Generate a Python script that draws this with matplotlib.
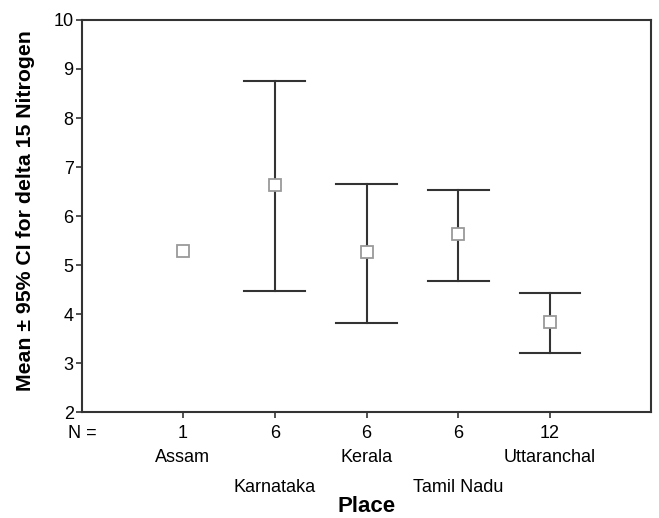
import matplotlib.pyplot as plt
import numpy as np

plt.rcParams['font.family'] = ['Liberation Sans', 'DejaVu Sans']

# Data
places = ['Assam', 'Karnataka', 'Kerala', 'Tamil Nadu', 'Uttaranchal']
n_values = ['1', '6', '6', '6', '12']
means = [5.29, 6.63, 5.26, 5.63, 3.83]
ci_low = [np.nan, 4.46, 3.82, 4.67, 3.21]
ci_high = [np.nan, 8.76, 6.66, 6.54, 4.43]

line_col = '#333333'
marker_col = '#9a9a9a'

fig = plt.figure(figsize=(6.59, 5.18), dpi=100)
ax = fig.add_axes([0.1244, 0.2046, 0.8635, 0.7568])

x = np.arange(1, len(places) + 1)
cap = 0.33

# error bars (vertical line + caps)
for xi, lo, hi in zip(x, ci_low, ci_high):
    if np.isnan(lo):
        continue
    ax.plot([xi, xi], [lo, hi], color=line_col, lw=1.5, zorder=2)
    ax.plot([xi - cap, xi + cap], [lo, lo], color=line_col, lw=1.5, zorder=2)
    ax.plot([xi - cap, xi + cap], [hi, hi], color=line_col, lw=1.5, zorder=2)

# means
ax.plot(x, means, linestyle='none', marker='s', markersize=9,
        markerfacecolor='white', markeredgecolor=marker_col,
        markeredgewidth=1.3, zorder=3)

ax.set_xlim(-0.1, 6.1)
ax.set_ylim(2, 10)
ax.set_yticks(range(2, 11))
ax.set_xticks(x)
ax.set_xticklabels(n_values)

for s in ax.spines.values():
    s.set_color(line_col)
    s.set_linewidth(1.5)

ax.tick_params(axis='both', direction='out', length=4, width=1.2,
               color=line_col, labelsize=13)
ax.tick_params(axis='x', pad=5)
ax.tick_params(axis='y', pad=2)

# N = label
ax.annotate('N =', xy=(0, 0), xycoords='axes fraction',
            xytext=(0, -15.5), textcoords='offset points',
            ha='center', va='center', fontsize=13)

# place names (staggered)
xt = ax.get_xaxis_transform()
for i, (xi, name) in enumerate(zip(x, places)):
    off = -33 if i % 2 == 0 else -54
    ax.annotate(name, xy=(xi, 0), xycoords=xt,
                xytext=(0, off), textcoords='offset points',
                ha='center', va='center', fontsize=13)

ax.annotate('Place', xy=(0.5, 0), xycoords='axes fraction',
            xytext=(0, -68), textcoords='offset points',
            ha='center', va='center', fontsize=16, fontweight='bold')

ax.set_ylabel('Mean \u00b1 95% CI for delta 15 Nitrogen', fontsize=15.3,
              fontweight='bold')
ax.yaxis.set_label_coords(-0.083, 0.513)

plt.savefig('out.png', dpi=100, facecolor='white')
